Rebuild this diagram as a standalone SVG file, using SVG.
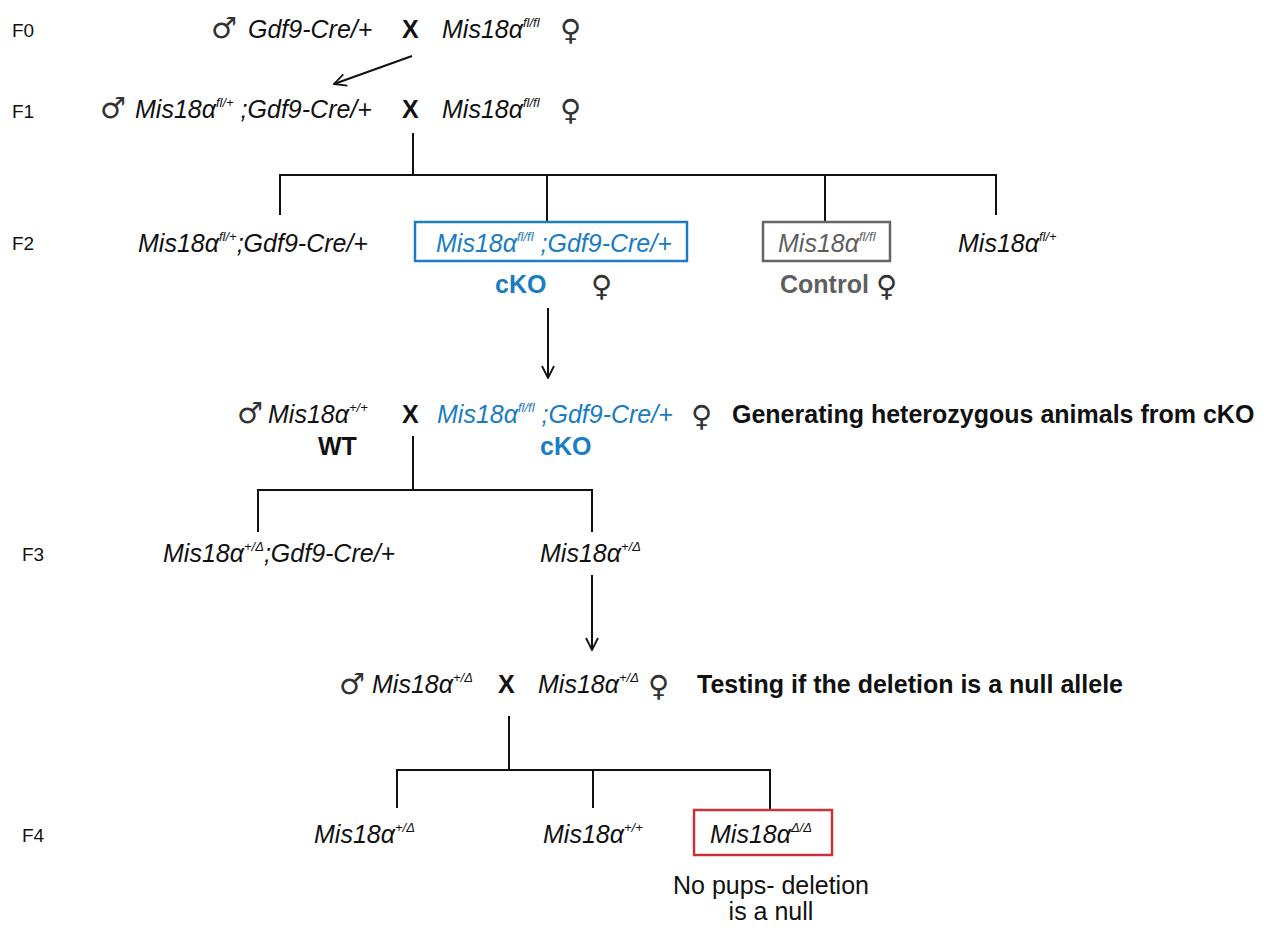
<svg xmlns="http://www.w3.org/2000/svg" width="1273" height="928" viewBox="0 0 1273 928">
<style>
.gen{font-family:"Liberation Sans",Arial,sans-serif;font-style:italic;font-size:25px;fill:#111}
.sup{font-size:13px}
.lab{font-family:"Liberation Sans",Arial,sans-serif;font-size:19px;fill:#111}
.b{font-family:"Liberation Sans",Arial,sans-serif;font-weight:bold;font-size:25px;fill:#111}
.n{font-family:"Liberation Sans",Arial,sans-serif;font-size:25px;fill:#111}
.sym{font-family:"DejaVu Sans",sans-serif;font-size:29px;fill:#333}
.blue{fill:#1a7cc2}
.grey{fill:#5f5f5f}
.ln{stroke:#111;stroke-width:2;fill:none}
</style>
<defs>
<marker id="ah" viewBox="0 0 14 14" refX="13" refY="7" markerWidth="14" markerHeight="14" markerUnits="userSpaceOnUse" orient="auto">
<path d="M1,1 L13,7 L1,13" fill="none" stroke="#111" stroke-width="1.8"/>
</marker>
</defs>
<g id="labels">
<text class="lab" x="12" y="37">F0</text>
<text class="lab" x="12" y="118">F1</text>
<text class="lab" x="12" y="250">F2</text>
<text class="lab" x="22" y="561">F3</text>
<text class="lab" x="22" y="842">F4</text>
</g>
<g id="connectors">
<line class="ln" x1="412" y1="56" x2="334" y2="84" marker-end="url(#ah)"/>
<line class="ln" x1="413" y1="133" x2="413" y2="175"/>
<polyline class="ln" points="280,215 280,175 996,175 996,215"/>
<line class="ln" x1="547" y1="175" x2="547" y2="222"/>
<line class="ln" x1="825" y1="175" x2="825" y2="222"/>
<line class="ln" x1="548" y1="308" x2="548" y2="378" marker-end="url(#ah)"/>
<line class="ln" x1="413" y1="436" x2="413" y2="490"/>
<polyline class="ln" points="258,532 258,490 592,490 592,532"/>
<line class="ln" x1="592" y1="575" x2="592" y2="650" marker-end="url(#ah)"/>
<line class="ln" x1="509" y1="716" x2="509" y2="770"/>
<polyline class="ln" points="397,808 397,770 770,770 770,810"/>
<line class="ln" x1="593" y1="770" x2="593" y2="808"/>
</g>
<g id="f0-cross">
<text class="sym" x="211" y="38">♂</text>
<text class="gen" x="248" y="38">Gdf9-Cre/+</text>
<text class="b" x="402" y="38">X</text>
<text class="gen" x="442" y="38">Mis18α<tspan class="sup" dy="-11">fl/fl</tspan></text>
<text class="sym" x="560" y="40">♀</text>
</g>
<g id="f1-cross">
<text class="sym" x="100" y="118">♂</text>
<text class="gen" x="135" y="118">Mis18α<tspan class="sup" dy="-11">fl/+</tspan><tspan dy="11"> ;Gdf9-Cre/+</tspan></text>
<text class="b" x="402" y="118">X</text>
<text class="gen" x="442" y="118">Mis18α<tspan class="sup" dy="-11">fl/fl</tspan></text>
<text class="sym" x="560" y="120">♀</text>
</g>
<g id="f2-het-cre">
<text class="gen" x="138" y="252">Mis18α<tspan class="sup" dy="-11">fl/+</tspan><tspan dy="11">;Gdf9-Cre/+</tspan></text>
</g>
<g id="f2-cko">
<rect x="415" y="222" width="272" height="39" fill="none" stroke="#1a7cc2" stroke-width="2.5"/>
<text class="gen blue" x="436" y="252">Mis18α<tspan class="sup" dy="-11">fl/fl</tspan><tspan dy="11"> ;Gdf9-Cre/+</tspan></text>
<text class="b blue" x="495" y="293">cKO</text>
<text class="sym" x="591" y="296">♀</text>
</g>
<g id="f2-control">
<rect x="763" y="222" width="127" height="39" fill="none" stroke="#666" stroke-width="2.5"/>
<text class="gen grey" x="778" y="252">Mis18α<tspan class="sup" dy="-11">fl/fl</tspan></text>
<text class="b grey" x="780" y="293">Control</text>
<text class="sym" x="876" y="296">♀</text>
</g>
<g id="f2-het">
<text class="gen" x="958" y="252">Mis18α<tspan class="sup" dy="-11">fl/+</tspan></text>
</g>
<g id="cko-cross">
<text class="sym" x="237" y="423">♂</text>
<text class="gen" x="268" y="423">Mis18α<tspan class="sup" dy="-11">+/+</tspan></text>
<text class="b" x="318" y="455">WT</text>
<text class="b" x="402" y="423">X</text>
<text class="gen blue" x="437" y="423">Mis18α<tspan class="sup" dy="-11">fl/fl</tspan><tspan dy="11"> ;Gdf9-Cre/+</tspan></text>
<text class="b blue" x="540" y="455">cKO</text>
<text class="sym" x="691" y="426">♀</text>
<text class="b" x="732" y="423">Generating heterozygous animals from cKO</text>
</g>
<g id="f3-het-cre">
<text class="gen" x="163" y="562">Mis18α<tspan class="sup" dy="-11">+/Δ</tspan><tspan dy="11">;Gdf9-Cre/+</tspan></text>
</g>
<g id="f3-het">
<text class="gen" x="540" y="562">Mis18α<tspan class="sup" dy="-11">+/Δ</tspan></text>
</g>
<g id="het-cross">
<text class="sym" x="339" y="694">♂</text>
<text class="gen" x="372" y="693">Mis18α<tspan class="sup" dy="-11">+/Δ</tspan></text>
<text class="b" x="498" y="693">X</text>
<text class="gen" x="538" y="693">Mis18α<tspan class="sup" dy="-11">+/Δ</tspan></text>
<text class="sym" x="648" y="696">♀</text>
<text class="b" x="697" y="693">Testing if the deletion is a null allele</text>
</g>
<g id="f4-het">
<text class="gen" x="314" y="843">Mis18α<tspan class="sup" dy="-11">+/Δ</tspan></text>
</g>
<g id="f4-wt">
<text class="gen" x="543" y="843">Mis18α<tspan class="sup" dy="-11">+/+</tspan></text>
</g>
<g id="f4-null">
<rect x="694" y="810" width="138" height="45" fill="none" stroke="#c8323a" stroke-width="2.5"/>
<text class="gen" x="710" y="843">Mis18α<tspan class="sup" dy="-11">Δ/Δ</tspan></text>
<text class="n" x="771" y="894" text-anchor="middle">No pups- deletion</text>
<text class="n" x="771" y="920" text-anchor="middle">is a null</text>
</g>
</svg>
